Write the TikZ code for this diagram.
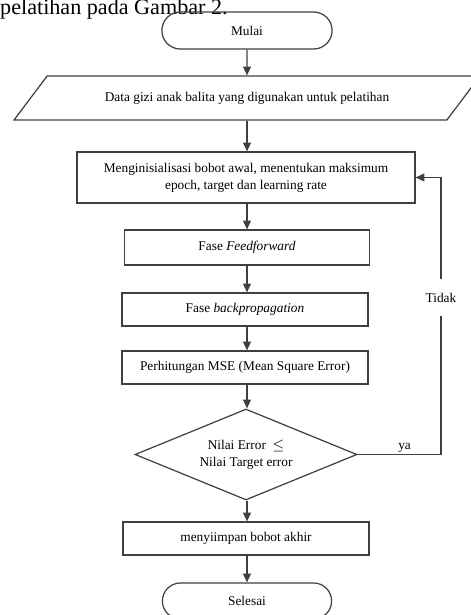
\documentclass[tikz,border=0pt]{standalone}
\usepackage{fontspec}
\setmainfont{Liberation Serif}
\usetikzlibrary{positioning,shapes.geometric,shapes.misc,arrows.meta}

\begin{document}
\begin{tikzpicture}[
					x=0.02cm, y=-0.02cm,
					every node/.style={
						font=\fontsize{7.6}{9.6}\selectfont
					},
					garis/.style={draw=black!75, line width=0.7pt},
					proses/.style={
						rectangle, garis, inner sep=1pt,
						minimum width=4.92cm, minimum height=0.66cm
					},
					terminal/.style={
						rounded rectangle, garis,
						minimum width=3.64cm, minimum height=0.74cm
					},
					masukan/.style={
						trapezium, trapezium left angle=35.8, trapezium right angle=144.2,
						trapezium stretches body, garis,
						minimum width=9.32cm, minimum height=0.88cm
					},
					keputusan/.style={
						diamond, garis, aspect=2.4, inner sep=0pt,
						minimum width=4.44cm, minimum height=1.82cm
					},
					panah/.style={
						garis, -{Triangle[length=5pt,width=4.5pt]}
					}
					]
					\useasboundingbox (0,0) rectangle (470,615);
					
					% potongan teks di atas gambar
					\node[anchor=base east, inner sep=0pt, font=\fontsize{12.6}{15}\selectfont] (judul) at (228,15) {pelatihan pada Gambar 2.};
					
					% Alur: Mulai -> data -> inisialisasi -> ... -> Selesai
					\node[terminal] (mulai) at (247,30.5) {Mulai};
					\node[masukan] (data) at (247,98) {Data gizi anak balita yang digunakan untuk pelatihan};
					\node[proses, minimum width=6.76cm, minimum height=1.02cm, align=center] (init) at (246,177.5) {Menginisialisasi bobot awal, menentukan maksimum\\ epoch, target dan learning rate};
					\node[proses, minimum width=4.9cm, minimum height=0.7cm] (ff) at (247,247.5) {Fase \textit{Feedforward}};
					\node[proses] (bp) at (245,309.5) {Fase \textit{backpropagation}};
					\node[proses] (mse) at (245,367.5) {Perhitungan MSE (Mean Square Error)};
					\node[keputusan, align=center] (cek) at (246,454.5) {Nilai Error \ $\leq$\\ Nilai Target error};
					\node[proses] (simpan) at (246,538.5) {menyiimpan bobot akhir};
					\node[terminal, minimum width=3.62cm, minimum height=0.72cm] (selesai) at (247,601) {Selesai};
					
					% panah lurus
					\draw[panah] (mulai) -- (data.north -| mulai);
					\draw[panah] (data.south -| mulai) -- (init.north -| mulai);
					\draw[panah] (init.south -| mulai) -- (ff.north -| mulai);
					\draw[panah] (ff.south -| mulai) -- (bp.north -| mulai);
					\draw[panah] (bp.south -| mulai) -- (mse.north -| mulai);
					\draw[panah] (mse.south -| mulai) -- (cek.north -| mulai);
					\draw[panah] (cek.south -| mulai) -- (simpan.north -| mulai);
					\draw[panah] (simpan.south -| mulai) -- (selesai.north -| mulai);
					
					% kembali ke inisialisasi
					\coordinate (balik) at (441,454.5);
					\draw[panah] (cek.east) -- node[above, inner sep=1pt, xshift=3pt] (ya) {ya} (balik) |- node[pos=0.283, fill=white, inner xsep=1pt, inner ysep=8pt] (tidak) {Tidak} (init.east);
				\end{tikzpicture}
\end{document}
